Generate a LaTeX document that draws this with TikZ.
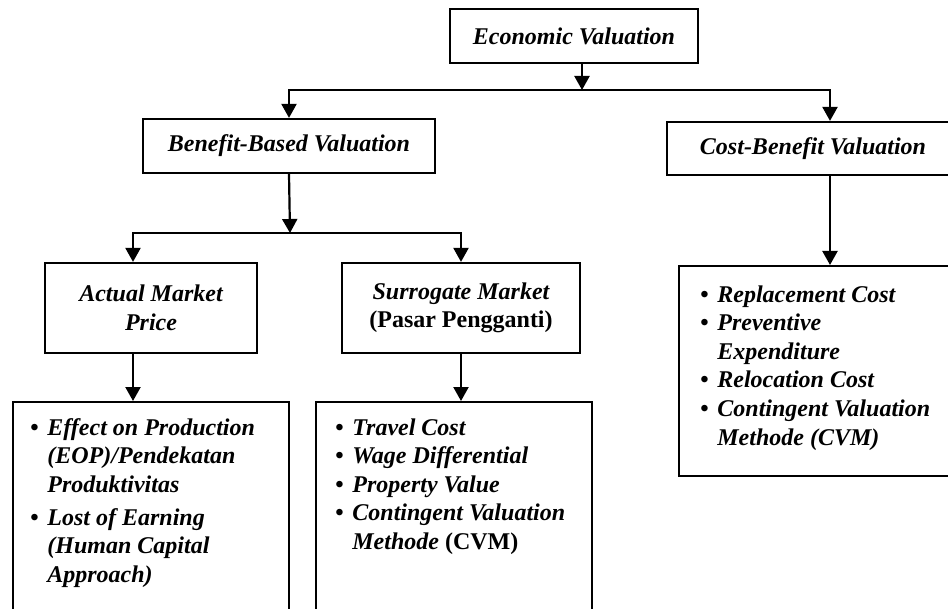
\documentclass[tikz,border=0pt]{standalone}
\usepackage{fontspec}
\setmainfont{Liberation Serif}
\usepackage{tikz}
\usetikzlibrary{arrows.meta,positioning,calc}
\newcommand{\bul}{\makebox[8.5pt][l]{\upshape\textbullet}}
\newcommand{\ind}{\hspace*{8.5pt}}
\tikzset{
  valfont/.style={font=\fontsize{12}{14.3}\selectfont\bfseries\itshape},
  box/.style={draw, line width=1.1pt, valfont, align=center, inner sep=0pt},
  listbox/.style={draw, line width=1.1pt, anchor=north west, inner sep=0pt},
  listtext/.style={valfont, anchor=north west, align=left, inner sep=0pt},
  link/.style={line width=1.1pt, -{Triangle[width=7.5pt,length=7pt]}}
}
\begin{document}
\begin{tikzpicture}[x=0.5pt, y=-0.5pt]
\useasboundingbox (0,0) rectangle (948,609);
\clip (0,0) rectangle (948,609);
% top level
\node[box, minimum width=124pt, minimum height=27pt] (econ) at (574,36) {Economic Valuation};
\node[box, minimum width=146pt, minimum height=27pt] (benefit) at (289,146) {Benefit-Based Valuation};
\node[box, minimum width=146pt, minimum height=26.5pt] (cost) at (813,148.5) {Cost-Benefit Valuation};
\coordinate (top) at (582,90);
\coordinate (rcol) at (830,90);
\draw[link] (econ.south -| top) -- (top);
\draw[link] (top) -| (benefit.north);
\draw[link] (top) -| (rcol |- cost.north);
% benefit side
\node[box, minimum width=106pt, minimum height=45pt] (actual) at (151,308) {Actual Market\\Price};
\node[box, minimum width=119pt, minimum height=45pt] (surrogate) at (461,308) {Surrogate Market\\{\upshape (Pasar Pengganti)}};
\coordinate (mid) at (290,233);
\coordinate (amp) at (133,233);
\draw[link] (benefit.south) -- (mid);
\draw[link] (mid) -| (amp |- actual.north);
\draw[link] (mid) -| (surrogate.north);
% lists
\node[listbox, minimum width=138pt, minimum height=120pt] (eopbox) at (12,401) {};
\node[listbox, minimum width=138pt, minimum height=120pt] (tcbox) at (315,401) {};
\node[listbox, minimum width=166pt, minimum height=105pt] (rcbox) at (678,265) {};
\draw[link] (amp |- actual.south) -- (amp |- eopbox.north);
\draw[link] (surrogate.south) -- (surrogate.south |- tcbox.north);
\draw[link] (rcol |- cost.south) -- (rcol |- rcbox.north);
\node[listtext] (eoptext) at (30,418) {\bul Effect on Production\\ \ind(EOP)/Pendekatan\\ \ind Produktivitas\\[2pt] \bul Lost of Earning\\ \ind(Human Capital\\ \ind Approach)};
\node[listtext] (tctext) at (335,418) {\bul Travel Cost\\ \bul Wage Differential\\ \bul Property Value\\ \bul Contingent Valuation\\ \ind Methode {\upshape (CVM)}};
\node[listtext] (rctext) at (700,285) {\bul Replacement Cost\\ \bul Preventive\\ \ind Expenditure\\ \bul Relocation Cost\\ \bul Contingent Valuation\\ \ind Methode (CVM)};
\end{tikzpicture}
\end{document}
